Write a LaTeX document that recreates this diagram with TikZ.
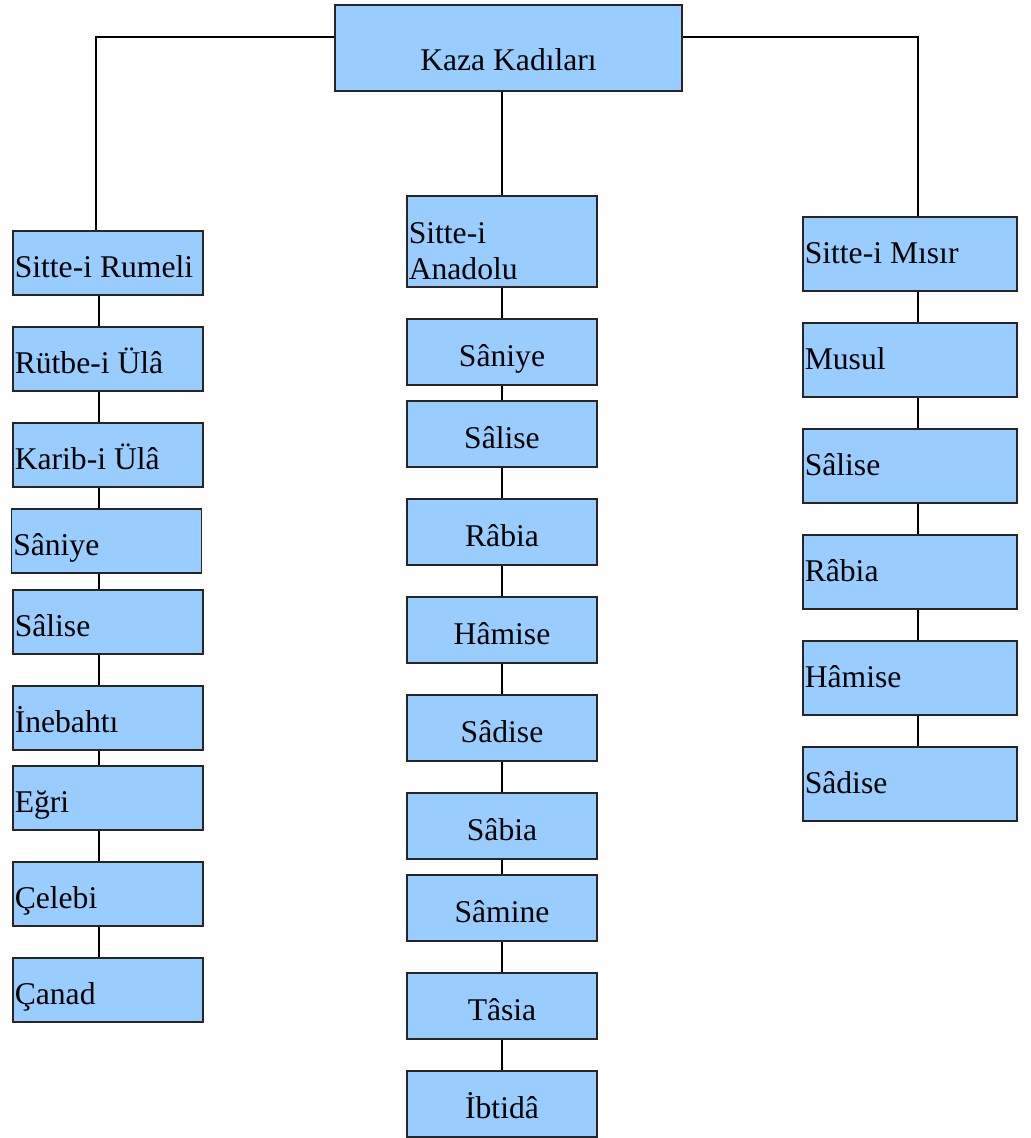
\documentclass[tikz,border=0pt]{standalone}
\usepackage{fontspec}
\setmainfont{Liberation Serif}
\definecolor{boxblue}{HTML}{99CCFF}
\begin{document}
\begin{tikzpicture}[x=0.02cm,y=-0.02cm,
    box/.style={draw=black!85,line width=1pt,fill=boxblue,
      font=\fontsize{18}{20.5}\selectfont,inner xsep=1pt},
    oneline/.style={text height=18pt,text depth=1.8pt},
    lbox/.style={box,oneline,text width=3.73cm,align=flush left,minimum height=1.28cm},
    cbox/.style={box,oneline,minimum width=3.8cm,minimum height=1.32cm},
    rbox/.style={box,text height=12.6pt,text depth=1.8pt,text width=4.21cm,
      align=flush left,minimum height=1.48cm},
    link/.style={line width=0.8pt}]
  \useasboundingbox (0,0) rectangle (1030,1138);

  % top
  \node[box,minimum width=6.94cm,minimum height=1.72cm,
    text height=27pt,text depth=1.8pt] (kaza) at (508.5,48) {Kaza Kadıları};

  % left column
  \foreach \i/\x/\y/\t in {1/108/263/Sitte-i Rumeli, 2/108/359/Rütbe-i Ülâ,
      3/108/455/Karib-i Ülâ, 4/106.5/541/Sâniye, 5/108/622/Sâlise,
      6/108/718/İnebahtı, 7/108/798/Eğri, 8/108/894/Çelebi, 9/108/990/Çanad}
    \node[lbox] (l\i) at (\x,\y) {\t};

  % middle column
  \node[box,text width=3.73cm,align=flush left,minimum height=1.82cm] (c1)
    at (502,241.5) {\rule{0pt}{1.25em}Sitte-i\\Anadolu};
  \foreach \i/\y/\t in {2/352/Sâniye, 3/434/Sâlise, 4/532/Râbia,
      5/630/Hâmise, 6/728/Sâdise, 7/826/Sâbia, 8/908/Sâmine,
      9/1006/Tâsia, 10/1104/İbtidâ}
    \node[cbox] (c\i) at (502,\y) {\t};

  % right column
  \foreach \i/\y/\t in {1/254/Sitte-i Mısır, 2/360/Musul, 3/466/Sâlise,
      4/572/Râbia, 5/678/Hâmise, 6/784/Sâdise}
    \node[rbox] (r\i) at (910,\y) {\t};

  % links
  \coordinate (bar) at (0,37);
  \coordinate (ltop) at (96,0);
  \coordinate (lcol) at (99,0);
  \coordinate (ccol) at (502,0);
  \coordinate (rcol) at (918,0);
  \draw[link] (kaza.west |- bar) -| (l1.north -| ltop);
  \draw[link] (kaza.east |- bar) -| (r1.north -| rcol);
  \draw[link] (kaza.south -| ccol) -- (c1.north -| ccol);
  \foreach \i [count=\j from 2] in {1,...,8}
    \draw[link] (l\i.south -| lcol) -- (l\j.north -| lcol);
  \foreach \i [count=\j from 2] in {1,...,9}
    \draw[link] (c\i.south -| ccol) -- (c\j.north -| ccol);
  \foreach \i [count=\j from 2] in {1,...,5}
    \draw[link] (r\i.south -| rcol) -- (r\j.north -| rcol);
\end{tikzpicture}
\end{document}
